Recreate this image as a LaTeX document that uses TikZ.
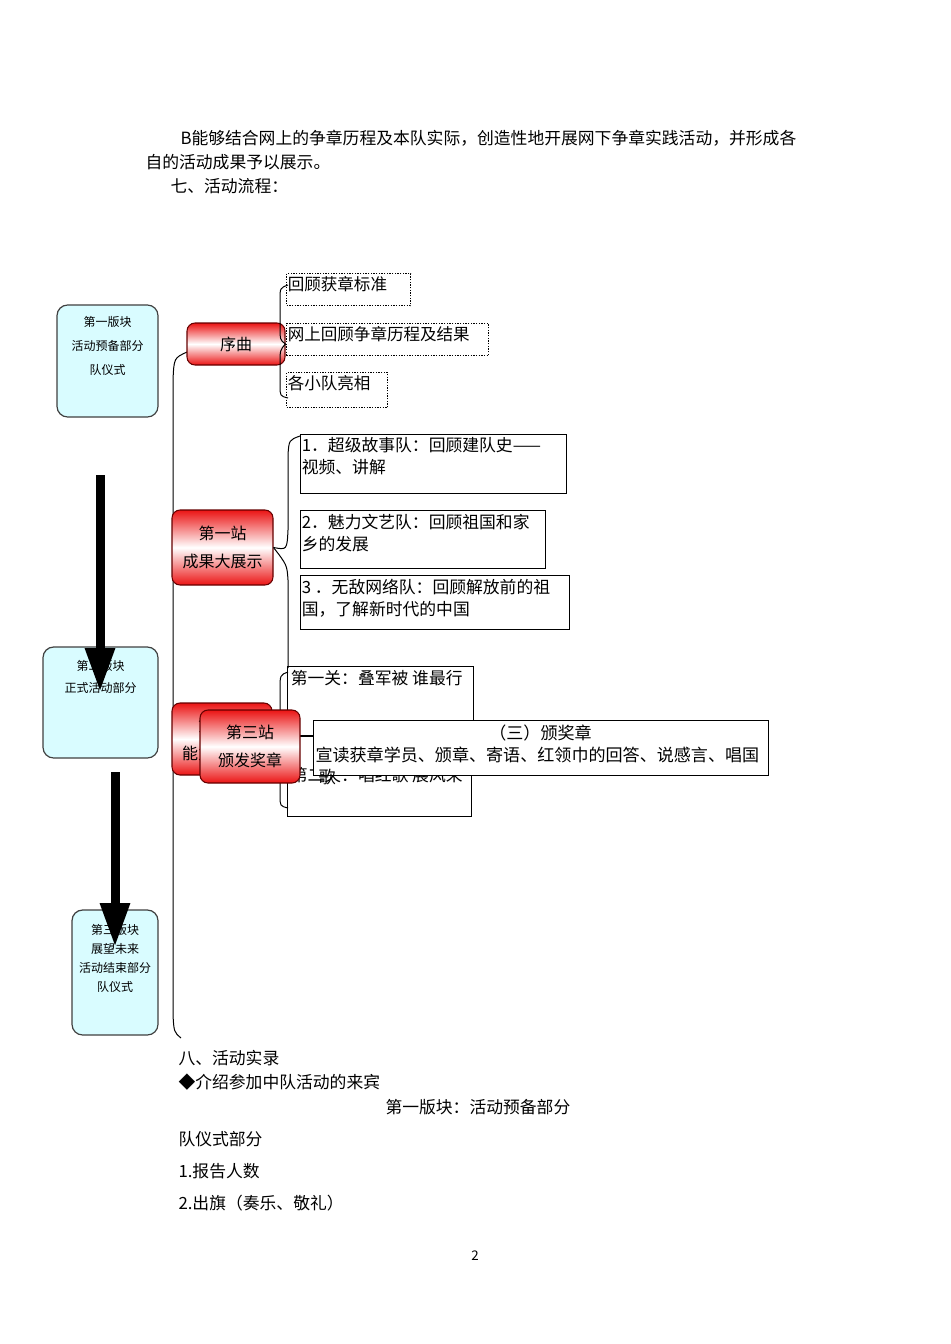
\documentclass[tikz,border=0pt]{standalone}
\usepackage{fontspec}
\setmainfont{Noto Sans CJK SC}
\usetikzlibrary{arrows.meta,positioning}
\definecolor{bkcyan}{RGB}{217,252,255}
\definecolor{zhred}{RGB}{235,20,20}
\tikzset{every picture/.style={line width=0.75pt},
  bk/.style={draw=black!75,fill=bkcyan,rounded corners=8pt,line width=0.9pt},
  bktxt/.style={font=\fontsize{9}{13.5}\selectfont,align=center,inner sep=0pt,anchor=north},
  zhan/.style={draw=red!40!black,rounded corners=6pt,top color=zhred,bottom color=zhred,middle color=white,
    font=\fontsize{12}{21}\selectfont,align=center,line width=0.8pt},
  dbox/.style={draw,densely dotted,line width=1pt,anchor=north west,inner sep=0pt},
  tbox/.style={draw,line width=1pt,anchor=north west,inner sep=0pt},
  btxt/.style={anchor=north west,inner sep=1pt,font=\fontsize{12.6}{16.5}\selectfont,align=left},
  body/.style={anchor=west,inner sep=0pt,font=\fontsize{12.6}{14}\selectfont},
  bigarrow/.style={line width=6.75pt,-{Triangle[width=21pt,length=33pt]}}}
\begin{document}
\begin{tikzpicture}[x=0.75pt,y=0.75pt,yscale=-1,xscale=1]
  \useasboundingbox (0,0) rectangle (950,1344);
  % text above
  \node[body] (p1) at (180,138) {B能够结合网上的争章历程及本队实际，创造性地开展网下争章实践活动，并形成各};
  \node[body] (p2) at (145,162) {自的活动成果予以展示。};
  \node[body] (p3) at (170,186) {七、活动流程：};

  % blocks
  \node[bk,minimum width=75.75pt,minimum height=84pt] (bk1) at (107.5,361) {};
  \node[bktxt,font=\fontsize{9}{18}\selectfont] (bk1t) at (107.5,316) {第一版块\\活动预备部分\\队仪式};
  \node[bk,minimum width=86.25pt,minimum height=83.25pt] (bk2) at (100.5,702.5) {};
  \node[bktxt,font=\fontsize{9}{16.5}\selectfont] (bk2t) at (100.5,660) {第二版块\\正式活动部分};
  \node[bk,minimum width=64.5pt,minimum height=93.75pt] (bk3) at (115,972.5) {};
  \node[bktxt,font=\fontsize{9}{14.2}\selectfont] (bk3t) at (115,924) {第三版块\\展望未来\\活动结束部分\\队仪式};
  \coordinate (a1s) at (100,475);
  \coordinate (a1e) at (100,692);
  \coordinate (a2s) at (115,772);
  \coordinate (a2e) at (115,947);
  \draw[bigarrow] (a1s) -- (a1e);
  \draw[bigarrow] (a2s) -- (a2e);

  % main curve
  \draw (187,352) .. controls (174,358) .. (173,380) -- (173,1015) .. controls (174,1032) .. (181,1038);

  % prelude
  \node[zhan,minimum width=73.5pt,minimum height=31.5pt] (xq) at (236,344) {序曲};
  \draw (xq.east) .. controls (280,340) .. (280,325) -- (280,300) .. controls (280,288) .. (288,285);
  \draw (xq.east) .. controls (280,350) .. (280,365) -- (280,385) .. controls (280,396) .. (288,398);
  \node[dbox,minimum width=93pt,minimum height=24pt] (x1) at (286,273) {};
  \node[btxt,font=\fontsize{12.4}{15}\selectfont] (x1t) at (286,275) {回顾获章标准};
  \node[dbox,minimum width=151.5pt,minimum height=24pt] (x2) at (286,323) {};
  \node[btxt,font=\fontsize{12.4}{15}\selectfont] (x2t) at (286,325) {网上回顾争章历程及结果};
  \node[dbox,minimum width=75.75pt,minimum height=26.25pt] (x3) at (286,372) {};
  \node[btxt,font=\fontsize{12.4}{15}\selectfont] (x3t) at (286,374) {各小队亮相};

  % station 1
  \node[zhan,minimum width=75.75pt,minimum height=56.25pt] (z1) at (222.5,547.5) {第一站\\成果大展示};
  \draw (z1.east) .. controls (287,550) .. (288,530) -- (288,455) .. controls (289,440) .. (300,436);
  \draw (z1.east) .. controls (287,565) .. (288,580) -- (288,668);
  \node[tbox,minimum width=199.5pt,minimum height=44.25pt] (s1) at (300,434) {};
  \node[btxt] (s1t) at (300,436) {1．超级故事队：回顾建队史——\\视频、讲解};
  \node[tbox,minimum width=183.75pt,minimum height=43.5pt] (s2) at (300,510) {};
  \node[btxt] (s2t) at (300,512) {2．魅力文艺队：回顾祖国和家\\乡的发展};
  \node[tbox,minimum width=201.75pt,minimum height=40.5pt] (s3) at (300,575) {};
  \node[btxt] (s3t) at (300,577) {3 ．无敌网络队：回顾解放前的祖\\国，了解新时代的中国};

  % station 2
  \node[zhan,minimum width=75pt,minimum height=54pt] (z2) at (222,739) {第二站\\能力大比拼};
  \draw (z2.east) .. controls (280,736) .. (280,720) -- (280,690) .. controls (280,675) .. (288,672);
  \draw (z2.east) .. controls (280,742) .. (280,760) -- (280,795) .. controls (280,806) .. (288,808);
  \node[tbox,minimum width=139.5pt,minimum height=52.5pt] (g1) at (287,666) {};
  \node[btxt] (g1t) at (289,668) {第一关：叠军被 谁最行};
  \node[tbox,minimum width=138pt,minimum height=60.75pt] (g2) at (287,735) {};
  \node[btxt] (g2t) at (289,765) {第二关：唱红歌 展风采};

  % station 3
  \node[zhan,minimum width=75pt,minimum height=54.75pt] (z3) at (250,746.5) {第三站\\颁发奖章};
  \node[tbox,fill=white,minimum width=341.25pt,minimum height=41.25pt] (s4) at (313,720) {};
  \node[inner sep=0pt,font=\fontsize{12.8}{16.5}\selectfont] (s4a) at (540.5,733) {（三）颁奖章};
  \node[anchor=west,inner sep=0pt,font=\fontsize{12.8}{16.5}\selectfont] (s4b) at (315,755) {宣读获章学员、颁章、寄语、红领巾的回答、说感言、唱国};
  \node[anchor=west,inner sep=0pt,font=\fontsize{12.8}{16.5}\selectfont] (s4c) at (318,777) {歌};

  % text below
  \node[body] (q1) at (178,1058) {八、活动实录};
  \node[body] (q2) at (178,1082) {◆介绍参加中队活动的来宾};
  \node[body] (q3) at (385,1107) {第一版块：活动预备部分};
  \node[body] (q4) at (178,1139) {队仪式部分};
  \node[body] (q5) at (178,1171) {1.报告人数};
  \node[body] (q6) at (178,1203) {2.出旗（奏乐、敬礼）};
  \node[inner sep=0pt,font=\fontsize{10}{12}\selectfont] (pg) at (475,1256) {2};
\end{tikzpicture}
\end{document}
